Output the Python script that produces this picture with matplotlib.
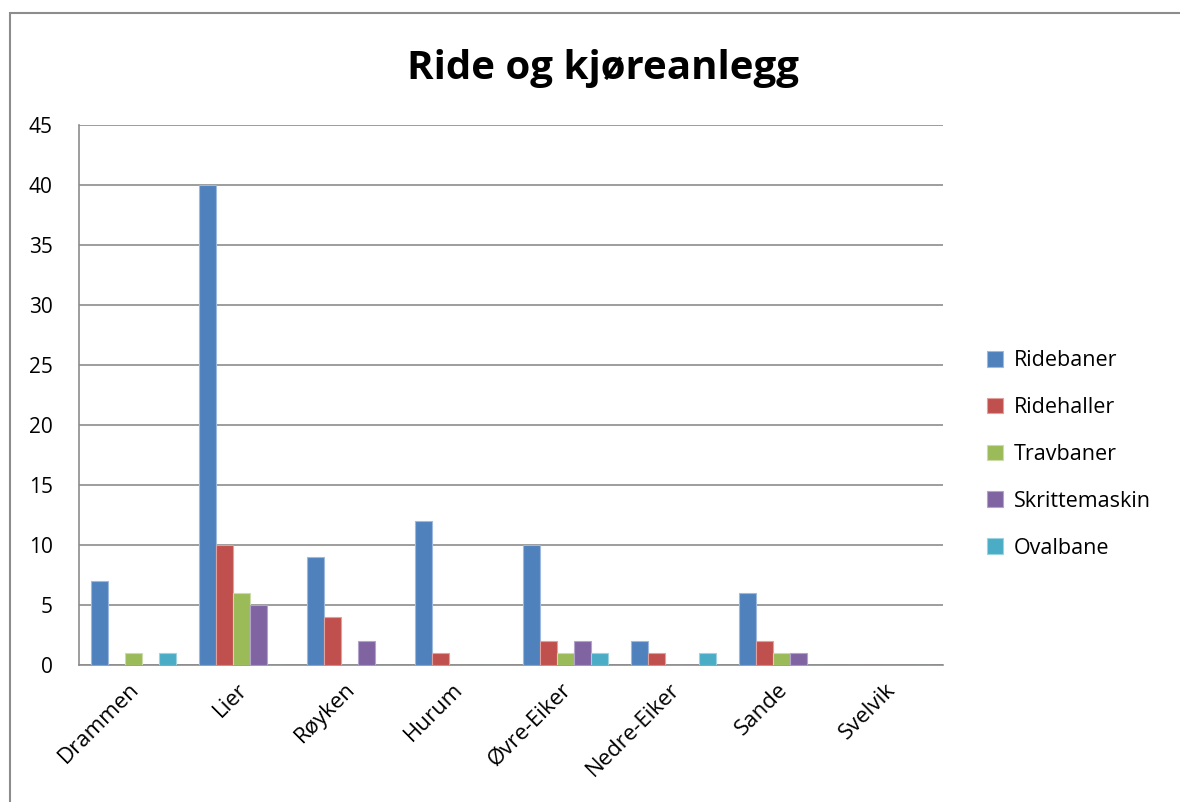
import matplotlib
matplotlib.use("Agg")
import matplotlib.pyplot as plt
import numpy as np
from matplotlib.patches import Rectangle

categories = ["Drammen", "Lier", "Røyken", "Hurum", "Øvre-Eiker", "Nedre-Eiker", "Sande", "Svelvik"]
series_names = ["Ridebaner", "Ridehaller", "Travbaner", "Skrittemaskin", "Ovalbane"]
ridebaner = [7, 40, 9, 12, 10, 2, 6, 0]
ridehaller = [0, 10, 4, 1, 2, 1, 2, 0]
travbaner = [1, 6, 0, 0, 1, 0, 1, 0]
skrittemaskin = [0, 5, 2, 0, 2, 0, 1, 0]
ovalbane = [1, 0, 0, 0, 1, 1, 0, 0]
yticks = [0, 5, 10, 15, 20, 25, 30, 35, 40, 45]

series = [ridebaner, ridehaller, travbaner, skrittemaskin, ovalbane]
colors = ["#4F81BD", "#C0504D", "#9BBB59", "#8064A2", "#4BACC6"]
edges = ["#9DB9DD", "#E0A09E", "#CBDCAA", "#B3A3CA", "#9DD3E0"]

plt.rcParams['font.family'] = ['Open Sans', 'DejaVu Sans']

W, H = 1180, 802
fig = plt.figure(figsize=(W / 100, H / 100), dpi=100)
fig.patch.set_facecolor("white")

# outer chart border
fig.patches.append(Rectangle((10 / W, -0.05), 1.1, 1 - 13 / H + 0.05, transform=fig.transFigure,
                             fill=False, edgecolor="#8C8C8C", linewidth=1.5, zorder=0))

left, right, top, bottom = 79, 943, 125, 665
ax = fig.add_axes([left / W, 1 - bottom / H, (right - left) / W, (bottom - top) / H])

x = np.arange(len(categories))
bw = 17 / 108
n = len(series)
for i, (vals, c, ec, name) in enumerate(zip(series, colors, edges, series_names)):
    offs = (i - (n - 1) / 2) * bw
    ax.bar(x + offs, vals, width=bw, color=c, edgecolor=ec, linewidth=0.8, label=name, zorder=3)

ax.set_xlim(-0.5, len(categories) - 0.5)
ax.set_ylim(0, 45)
ax.set_yticks(yticks)
ax.yaxis.grid(True, color="#8C8C8C", linewidth=1.2, zorder=0)
ax.set_axisbelow(True)
for s in ["top", "right"]:
    ax.spines[s].set_visible(False)
for s in ["left", "bottom"]:
    ax.spines[s].set_color("#8C8C8C")
    ax.spines[s].set_linewidth(1.2)
ax.tick_params(axis="y", length=0, pad=19, labelsize=15, colors="#000000")
ax.tick_params(axis="x", length=0)
ax.set_xticks(x)
ax.set_xticklabels([])
for xi, lab in zip(x, categories):
    ax.annotate(lab, xy=(xi, 0), xycoords="data", xytext=(-3, -10), textcoords="offset points",
                rotation=45, ha="right", va="top", rotation_mode="anchor", fontsize=16,
                annotation_clip=False)

fig.text(603 / W, 1 - 68 / H, "Ride og kjøreanlegg", ha="center", va="center",
         fontsize=29, fontweight="bold")

leg = ax.legend(loc="center left", bbox_to_anchor=(1.028, 0.39), frameon=False, fontsize=15.5,
                handlelength=0.75, handleheight=0.75, handletextpad=0.5, labelspacing=1.2)

fig.savefig("out.png", dpi=100, facecolor="white")
